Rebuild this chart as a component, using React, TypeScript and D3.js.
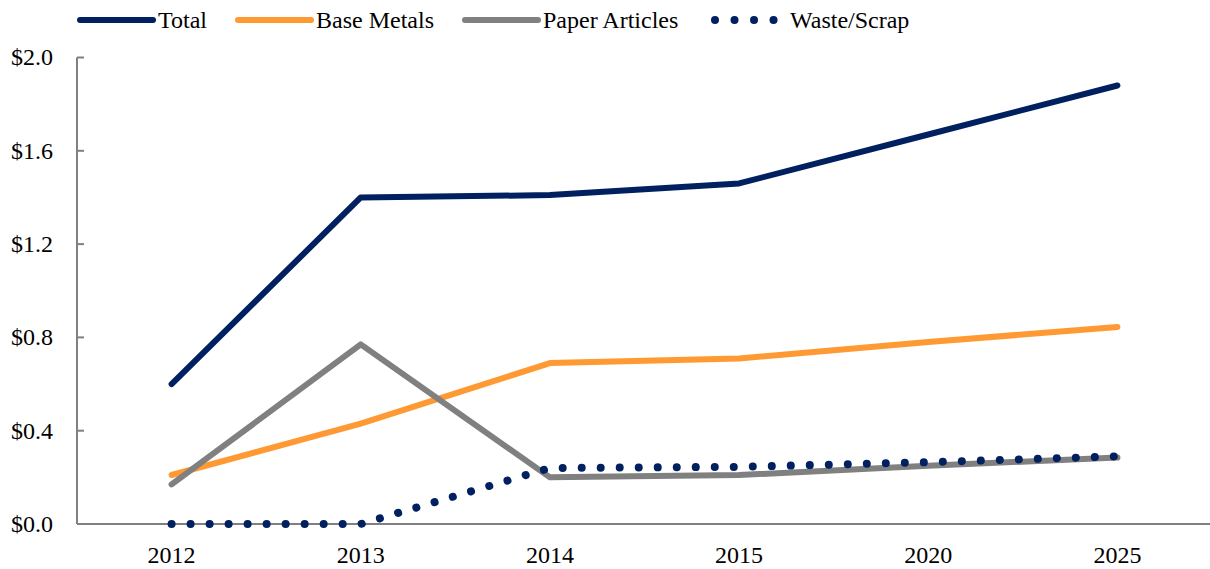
import React, { useEffect, useRef } from 'react';
import * as d3 from 'd3';

const years = ['2012', '2013', '2014', '2015', '2020', '2025'];
const total = [0.6, 1.4, 1.41, 1.46, 1.67, 1.88];
const baseMetals = [0.21, 0.43, 0.69, 0.71, 0.78, 0.845];
const paperArticles = [0.17, 0.77, 0.2, 0.21, 0.25, 0.285];
const wasteScrap = [0.0, 0.0, 0.24, 0.245, 0.265, 0.29];
const yTicks = [0, 0.4, 0.8, 1.2, 1.6, 2.0];

const series = [
  { name: 'Total', values: total, color: '#002060', dotted: false },
  { name: 'Base Metals', values: baseMetals, color: '#FF9933', dotted: false },
  { name: 'Paper Articles', values: paperArticles, color: '#808080', dotted: false },
  { name: 'Waste/Scrap', values: wasteScrap, color: '#002060', dotted: true },
];

const App: React.FC = () => {
  const svgRef = useRef<SVGSVGElement>(null);

  useEffect(() => {
    if (!svgRef.current) return;
    const svg = d3.select(svgRef.current);
    svg.selectAll('*').remove();

    const font = 'Liberation Serif, DejaVu Serif, serif';
    const fontSize = 24;
    const x = d3.scaleBand().domain(years).range([77, 1212]).padding(0);
    const cx = (y: string) => (x(y) || 0) + x.bandwidth() / 2;
    const y = d3.scaleLinear().domain([0, 2]).range([524, 57.5]);

    // y axis
    const yAxis = svg.append('g').attr('transform', 'translate(77,0)');
    yAxis.append('line')
      .attr('y1', y(2)).attr('y2', y(0))
      .attr('stroke', '#808080').attr('stroke-width', 2);
    yAxis.selectAll('line.tick')
      .data(yTicks)
      .join('line')
      .attr('class', 'tick')
      .attr('x1', 0).attr('x2', 7)
      .attr('y1', d => y(d)).attr('y2', d => y(d))
      .attr('stroke', '#808080').attr('stroke-width', 2);
    yAxis.selectAll('text')
      .data(yTicks)
      .join('text')
      .attr('x', -24)
      .attr('y', d => y(d))
      .attr('dy', '0.33em')
      .attr('text-anchor', 'end')
      .style('font-family', font)
      .style('font-size', `${fontSize}px`)
      .attr('fill', '#000')
      .text(d => '$' + d.toFixed(1));

    // x axis
    svg.append('line')
      .attr('x1', 77).attr('x2', 1212)
      .attr('y1', y(0)).attr('y2', y(0))
      .attr('stroke', '#808080').attr('stroke-width', 2);
    svg.append('g')
      .selectAll('text')
      .data(years)
      .join('text')
      .attr('x', d => cx(d))
      .attr('y', 563)
      .attr('text-anchor', 'middle')
      .style('font-family', font)
      .style('font-size', `${fontSize}px`)
      .attr('fill', '#000')
      .text(d => d);

    // lines
    const line = d3.line<number>()
      .x((_, i) => cx(years[i]))
      .y(d => y(d));

    series.forEach(s => {
      const p = svg.append('path')
        .attr('d', line(s.values) || '')
        .attr('fill', 'none')
        .attr('stroke', s.color)
        .attr('stroke-linecap', 'round')
        .attr('stroke-linejoin', 'round');
      if (s.dotted) {
        p.attr('stroke-width', 8).attr('stroke-dasharray', '0.01 19');
      } else {
        p.attr('stroke-width', 6);
      }
    });

    // legend
    const legendX = [80, 238, 465, 711];
    const legend = svg.append('g')
      .selectAll('g')
      .data(series)
      .join('g')
      .attr('transform', (_, i) => `translate(${legendX[i]},20)`);
    legend.append('line')
      .attr('x1', d => (d.dotted ? 4 : 0))
      .attr('x2', d => (d.dotted ? 63 : 73))
      .attr('y1', 0).attr('y2', 0)
      .attr('stroke', d => d.color)
      .attr('stroke-linecap', 'round')
      .attr('stroke-width', d => (d.dotted ? 8 : 6))
      .attr('stroke-dasharray', d => (d.dotted ? '0.01 19.5' : null));
    legend.append('text')
      .attr('x', d => (d.dotted ? 79 : 78))
      .attr('y', 0)
      .attr('dy', '0.33em')
      .style('font-family', font)
      .style('font-size', `${fontSize}px`)
      .attr('fill', '#000')
      .text(d => d.name);
  }, []);

  return (
    <svg
      ref={svgRef}
      width={1210}
      height={569}
      style={{ position: 'absolute', left: 0, top: 0, background: '#fff' }}
    />
  );
};

export default App;
